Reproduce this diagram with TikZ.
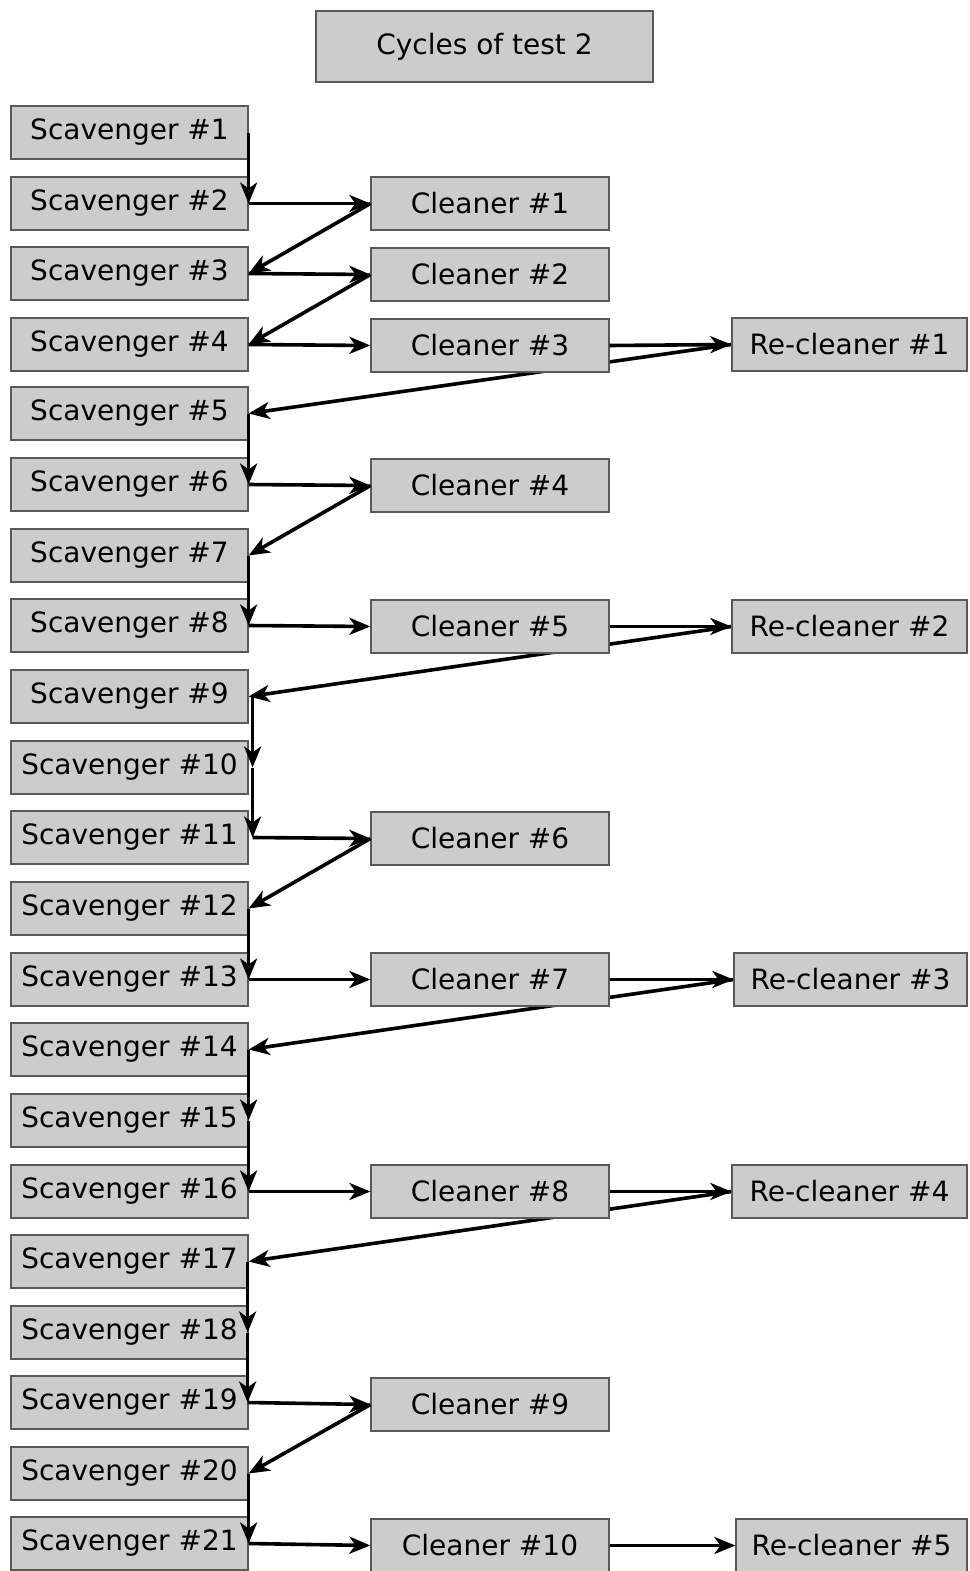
\documentclass[tikz,border=0pt]{standalone}
\usepackage{fontspec}
\setmainfont{DejaVu Sans}
\usetikzlibrary{arrows.meta,backgrounds}
\begin{document}
\begin{tikzpicture}[x=1pt,y=-1pt,
  box/.style={draw=black!65,line width=1.2pt,fill=black!20,inner sep=0pt,
    font=\fontsize{28}{34}\selectfont,text=black},
  scav/.style={box,minimum width=237pt,minimum height=53pt},
  clean/.style={box,minimum width=238pt,minimum height=53pt},
  recl/.style={box,minimum width=235pt,minimum height=53pt},
  conn/.style={line width=3.6pt,-{Stealth[length=21pt,width=17pt,inset=6pt]}}]
\useasboundingbox (0,0) rectangle (969,1571);
\node[box,minimum width=337pt,minimum height=71pt] (title) at (484.5,46.5) {Cycles of test 2};
% scavengers
\foreach \i/\y in {1/132.5,2/203.5,3/273.5,4/344.5,5/413.5,6/484.5,7/555.5,8/625.5,9/696.5,10/767.5,11/837.5,12/908.5,13/979.5,14/1049.5,15/1120.5,16/1191.5,17/1261.5,18/1332.5,19/1402.5,20/1473.5,21/1543.5}
  \node[scav] (s\i) at (129.5,\y) {Scavenger \#\i};
% cleaners
\foreach \i/\y in {1/203.5,2/274.5,3/345.5,4/485.5,5/626.5,6/838.5,7/979.5,8/1191.5,9/1404.5,10/1545.5}
  \node[clean] (c\i) at (490,\y) {Cleaner \#\i};
% re-cleaners
\node[recl] (r1) at (849.5,344.5) {Re-cleaner \#1};
\node[recl] (r2) at (849.5,626.5) {Re-cleaner \#2};
\node[recl,minimum width=233pt] (r3) at (850.5,979.5) {Re-cleaner \#3};
\node[recl] (r4) at (849.5,1191.5) {Re-cleaner \#4};
\node[recl,minimum width=231pt] (r5) at (851.5,1545.5) {Re-cleaner \#5};
% connectors behind cleaners
\begin{scope}[on background layer]
\draw[conn] (r1.west) -- (s5.east);
\draw[conn] (r2.west) -- (s9.east);
\draw[conn] (r3.west) -- (s14.east);
\draw[conn] (r4.west) -- (s17.east);
\end{scope}
% connectors
\draw[conn] (s1.east) -- (s2.east);
\draw[conn] (s2.east) -- (c1.west);
\draw[conn] (c1.west) -- (s3.east);
\draw[conn] (s3.east) -- (c2.west);
\draw[conn] (c2.west) -- (s4.east);
\draw[conn] (s4.east) -- (c3.west);
\draw[conn] (c3.east) -- (r1.west);
\draw[conn] (s5.east) -- (s6.east);
\draw[conn] (s6.east) -- (c4.west);
\draw[conn] (c4.west) -- (s7.east);
\draw[conn] (s7.east) -- (s8.east);
\draw[conn] (s8.east) -- (c5.west);
\draw[conn] (c5.east) -- (r2.west);
\draw[conn] ([xshift=4pt]s9.east) -- ([xshift=4pt]s10.east);
\draw[conn] ([xshift=4pt]s10.east) -- ([xshift=4pt]s11.east);
\draw[conn] ([xshift=4pt]s11.east) -- (c6.west);
\draw[conn] (c6.west) -- (s12.east);
\draw[conn] (s12.east) -- (s13.east);
\draw[conn] (s13.east) -- (c7.west);
\draw[conn] (c7.east) -- (r3.west);
\draw[conn] (s14.east) -- (s15.east);
\draw[conn] (s15.east) -- (s16.east);
\draw[conn] (s16.east) -- (c8.west);
\draw[conn] (c8.east) -- (r4.west);
\draw[conn] ([xshift=-1pt]s17.east) -- ([xshift=-1pt]s18.east);
\draw[conn] ([xshift=-1pt]s18.east) -- ([xshift=-1pt]s19.east);
\draw[conn] ([xshift=-1pt]s19.east) -- (c9.west);
\draw[conn] (c9.west) -- (s20.east);
\draw[conn] (s20.east) -- (s21.east);
\draw[conn] (s21.east) -- (c10.west);
\draw[conn] (c10.east) -- (r5.west);
\end{tikzpicture}
\end{document}
